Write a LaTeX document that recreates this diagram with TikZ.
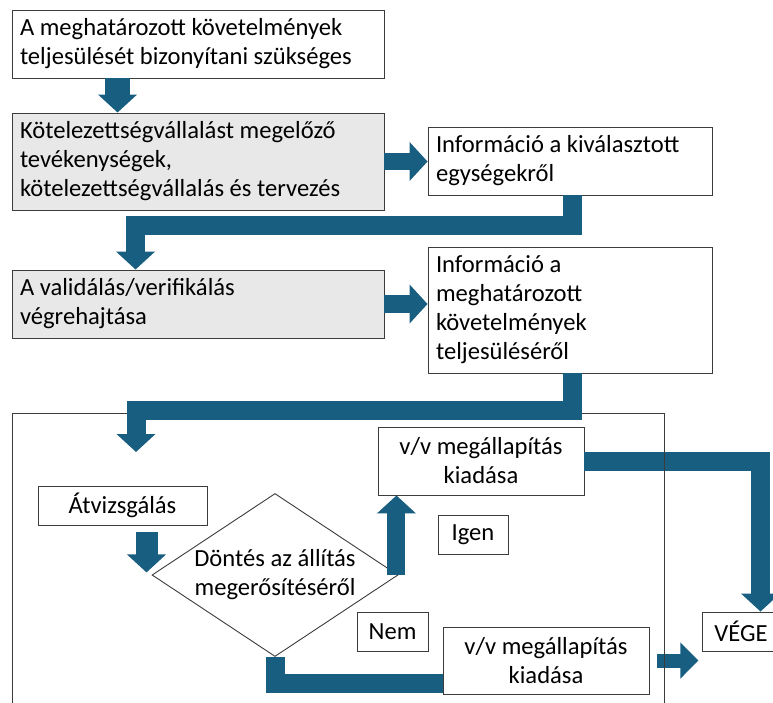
\documentclass[tikz,border=0pt]{standalone}
\usepackage{fontspec}
\setmainfont{Carlito}
\usepackage{tikz}
\usetikzlibrary{arrows.meta,positioning,shapes.geometric}
\definecolor{flowblue}{RGB}{24,94,128}
\definecolor{boxgray}{RGB}{232,232,232}
\definecolor{edge}{RGB}{60,60,60}
\begin{document}
\begin{tikzpicture}[x=1pt,y=-1pt,
  box/.style={draw=edge,line width=0.9pt,fill=white,inner xsep=8pt,inner ysep=4pt,font=\fontsize{24.6}{29}\selectfont},
  lbox/.style={box,align=flush left,text width=#1},
  cbox/.style={box,align=center},
  sh/.style={fill=boxgray},
  flow/.style={draw=flowblue,line width=#1,-{Triangle[length=18pt,width=38pt]}},
  flow/.default=19pt,
  band/.style={draw=flowblue,line width=19pt}]
\useasboundingbox (0,0) rectangle (773,702);
\clip (0,0) rectangle (773,702);
% keret
\draw[edge,line width=0.9pt] (12,720) |- (664,413) -- (664,720);
\node[lbox=356pt,minimum height=68pt] (cel) at (198,44) {A meghatározott követelmények\\teljesülését bizonyítani szükséges};
\node[lbox=356pt,sh,minimum height=97pt] (kot) at (198,161.5) {Kötelezettségvállalást megelőző\\tevékenységek,\\kötelezettségvállalás és tervezés};
\node[lbox=268pt,minimum height=68pt] (info1) at (570,161) {Információ a kiválasztott\\egységekről};
\node[lbox=356pt,sh,minimum height=68pt] (valid) at (198,304) {A validálás/verifikálás\\végrehajtása};
\node[lbox=268pt,minimum height=126pt] (info2) at (570,310) {Információ a\\meghatározott\\követelmények\\teljesüléséről};
\node[cbox,minimum width=206pt,minimum height=68pt] (megall1) at (481,461) {v/v megállapítás\\kiadása};
\node[cbox,minimum width=169pt,minimum height=39pt] (atv) at (122.5,505.5) {Átvizsgálás};
\node[box,diamond,aspect=1.51,inner sep=0pt,align=center,minimum width=246pt,minimum height=163pt] (dont) at (275,575) {Döntés az állítás\\megerősítéséről};
\node[cbox,minimum width=70pt,minimum height=39pt] (igen) at (473,534.5) {Igen};
\node[cbox,minimum width=71pt,minimum height=39pt] (nem) at (392.5,631.5) {Nem};
\node[cbox,minimum width=206pt,minimum height=67pt] (megall2) at (546,660.5) {v/v megállapítás\\kiadása};
\node[cbox,minimum width=78pt,minimum height=39pt] (vege) at (741,631.5) {VÉGE};
\coordinate (be) at (136,452);
% nyilak
\draw[flow=25pt] ([xshift=106pt]cel.south west) -- ([xshift=106pt]kot.north west);
\draw[flow=17pt] (kot.east) -- (kot.east -| info1.west);
\draw[flow] ([xshift=2.5pt]info1.south) -- ++(0,30.5) -| ([xshift=124pt]valid.north west);
\draw[flow=18pt] (valid.east) -- (valid.east -| info2.west);
\draw[flow] ([xshift=2.5pt]info2.south) -- ++(0,37) -| (be);
\draw[flow=22pt] ([xshift=24pt,yshift=-7pt]atv.south) -- ++(0,40);
\draw[flow=18pt] ([xshift=-2pt]dont.east) -- ([xshift=-2pt]dont.east |- megall1.south);
\draw[band] (dont.south) |- ([yshift=-22.5pt]megall2.west);
\draw[flow] (megall1.east) -| ([xshift=19.5pt]vege.north);
\draw[flow=14pt,-{Triangle[length=18pt,width=35pt]}] ([xshift=8pt]megall2.east) -- ++(41,0);
\draw[edge,line width=0.9pt] (664,413) -- (664,720);
\end{tikzpicture}
\end{document}
